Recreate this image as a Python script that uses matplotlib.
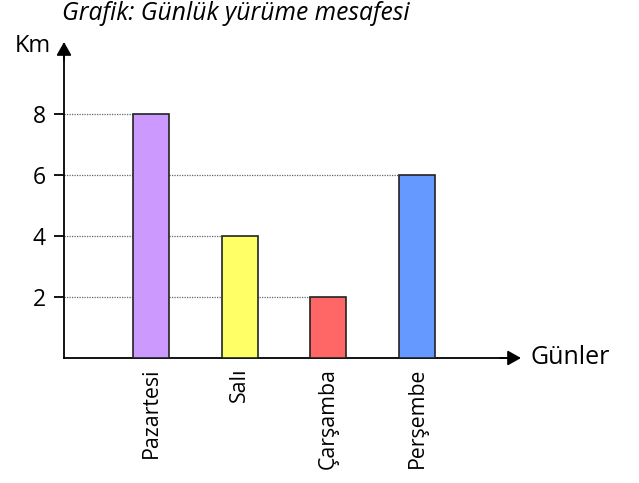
import matplotlib.pyplot as plt

days = ["Pazartesi", "Salı", "Çarşamba", "Perşembe"]
km = [8, 4, 2, 6]
colors = ["#CC99FF", "#FFFF66", "#FF6666", "#6699FF"]
yticks = [2, 4, 6, 8]

plt.rcParams['font.family'] = ['Open Sans', 'DejaVu Sans']

W, H = 639, 483
fig = plt.figure(figsize=(W/100, H/100), dpi=100)
# axes from x=64..530 px, y=358..40 px
ax = fig.add_axes([64/W, (H-358)/H, (530-64)/W, (358-40)/H])
spacing = 88.67
x0 = 151
ax.set_xlim((64-x0)/spacing, (530-x0)/spacing)
ax.set_ylim(0, (358-40)/30.5)

xs = list(range(len(days)))
width = 36/spacing
ax.bar(xs, km, width=width, color=colors, edgecolor="#222222", linewidth=1.2, zorder=3)

xmin = ax.get_xlim()[0]
for x, v in zip(xs, km):
    ax.hlines(v, xmin, x - width/2, colors="#666666", linestyles=(0, (1, 1)), linewidth=0.9, zorder=1)

for s in ["top", "right"]:
    ax.spines[s].set_visible(False)
ax.spines["left"].set_linewidth(1.3)
ax.spines["bottom"].set_linewidth(1.3)
ax.spines["left"].set_bounds(0, (358-50)/30.5)
ax.spines["bottom"].set_bounds(xmin, (510-x0)/spacing)

ax.set_yticks(yticks)
ax.set_yticklabels([str(t) for t in yticks], fontsize=16.5)
ax.tick_params(axis='y', length=7, width=1.3, pad=6)
ax.set_xticks(xs)
ax.set_xticklabels(days, rotation=90, fontsize=15.3, va='top', ha='center')
ax.tick_params(axis='x', length=0, pad=7)

style = "-|>,head_length=0.8,head_width=0.45"
# arrow heads
ax.annotate("", xy=(xmin, (358-42)/30.5), xytext=(xmin, (358-60)/30.5),
            arrowprops=dict(arrowstyle=style, color="black", lw=1.3,
                            shrinkA=0, shrinkB=0, mutation_scale=10),
            annotation_clip=False)
ax.annotate("", xy=((521-x0)/spacing, 0), xytext=((500-x0)/spacing, 0),
            arrowprops=dict(arrowstyle=style, color="black", lw=1.3,
                            shrinkA=0, shrinkB=0, mutation_scale=10),
            annotation_clip=False)

fig.text(33/W, 1-46/H, "Km", fontsize=17, ha='center', va='center')
fig.text(531/W, 1-358/H, "Günler", fontsize=18, ha='left', va='center')
fig.text(62/W, 1-13/H, "Grafik: Günlük yürüme mesafesi", fontsize=17.7, style='italic', ha='left', va='center')

fig.savefig("out.png", dpi=100)
